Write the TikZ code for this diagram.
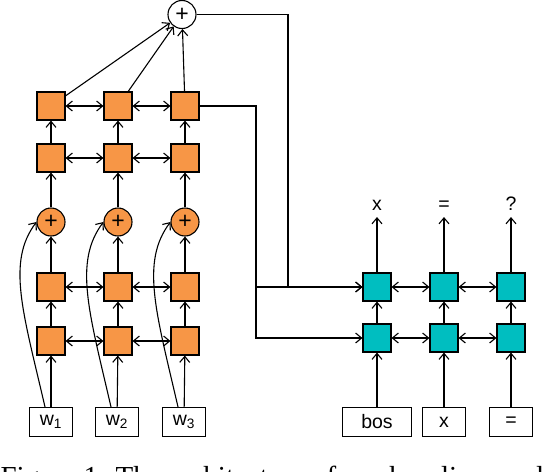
\documentclass[tikz,border=0pt]{standalone}
\usepackage{fontspec}
\setmainfont{Liberation Sans}
\newfontfamily\captionserif{Liberation Serif}
\usepackage{tikz}
\usetikzlibrary{arrows.meta}
\definecolor{cellorange}{RGB}{247,150,70}
\definecolor{cellteal}{RGB}{0,190,192}

\begin{document}
\begin{tikzpicture}[x=1pt,y=-1pt,line width=1.1pt,
  >={Straight Barb[length=6pt,width=10pt]},
  font=\fontsize{19.5}{22}\selectfont,
  osq/.style={draw,fill=cellorange,minimum size=28pt,inner sep=0pt},
  tsq/.style={draw,fill=cellteal,minimum size=28pt,inner sep=0pt},
  osum/.style={draw,circle,fill=cellorange,minimum size=28pt,inner sep=0pt,font=\fontsize{23}{24}\selectfont},
  word/.style={draw,fill=white,minimum height=29pt,minimum width=43pt,inner sep=0pt},
  outlbl/.style={inner sep=0pt,text height=12pt,text depth=6pt,anchor=south}]
\useasboundingbox (0,0) rectangle (542,472);

      \node[osum,fill=white] (plus) at (182,14.5) {+};

      \node[osq] (o11) at (51,106) {};
      \node[osq] (o12) at (118,106) {};
      \node[osq] (o13) at (185,106) {};
      \node[osq] (o21) at (51,158) {};
      \node[osq] (o22) at (118,158) {};
      \node[osq] (o23) at (185,158) {};
      \node[osum] (s1) at (51,222) {+};
      \node[osum] (s2) at (118,222) {+};
      \node[osum] (s3) at (185,222) {+};
      \node[osq] (o31) at (51,287) {};
      \node[osq] (o32) at (118,287) {};
      \node[osq] (o33) at (185,287) {};
      \node[osq] (o41) at (51,341) {};
      \node[osq] (o42) at (118,341) {};
      \node[osq] (o43) at (185,341) {};
      \node[word] (w1) at (51,422) {w\textsubscript{1}};
      \node[word] (w2) at (117,422) {w\textsubscript{2}};
      \node[word] (w3) at (184,422) {w\textsubscript{3}};

      \node[tsq] (t11) at (377,287) {};
      \node[tsq] (t12) at (444,287) {};
      \node[tsq] (t13) at (511,287) {};
      \node[tsq] (t21) at (377,338) {};
      \node[tsq] (t22) at (444,338) {};
      \node[tsq] (t23) at (511,338) {};
      \node[word,minimum width=69pt] (bos) at (377,422) {bos};
      \node[word] (ix) at (444,422) {x};
      \node[word] (ieq) at (511,422) {=};
      \node[outlbl] (lx) at (377,217) {x};
      \node[outlbl] (leq) at (444,217) {=};
      \node[outlbl] (lq) at (511,217) {?};

      \coordinate (bendA) at (288,287);
      \coordinate (bendB) at (256,338);
      \coordinate (bendC) at (256,287);

      \draw[->] (o11) -- (plus);
      \draw[->] (o12) -- (plus);
      \draw[->] (o13) -- (plus);
      \draw[<->] (o11) -- (o12);
      \draw[<->] (o12) -- (o13);
      \draw[<->] (o21) -- (o22);
      \draw[<->] (o22) -- (o23);
      \draw[<->] (o31) -- (o32);
      \draw[<->] (o32) -- (o33);
      \draw[<->] (o41) -- (o42);
      \draw[<->] (o42) -- (o43);
      \draw[->] (o21) -- (o11);
      \draw[->] (o22) -- (o12);
      \draw[->] (o23) -- (o13);
      \draw[->] (s1) -- (o21);
      \draw[->] (s2) -- (o22);
      \draw[->] (s3) -- (o23);
      \draw[->] (o31) -- (s1);
      \draw[->] (o32) -- (s2);
      \draw[->] (o33) -- (s3);
      \draw[->] (o41) -- (o31);
      \draw[->] (o42) -- (o32);
      \draw[->] (o43) -- (o33);
      \draw[->] (w1) -- (o41);
      \draw[->] (w2) -- (o42);
      \draw[->] (w3) -- (o43);
      \draw[->] ([xshift=-6pt]w1.north) .. controls +(-22,-95) and +(-30,40) .. (s1.west);
      \draw[->] ([xshift=-6pt]w2.north) .. controls +(-22,-95) and +(-30,40) .. (s2.west);
      \draw[->] ([xshift=-6pt]w3.north) .. controls +(-22,-95) and +(-30,40) .. (s3.west);

      \draw[<->] (t11) -- (t12);
      \draw[<->] (t12) -- (t13);
      \draw[<->] (t21) -- (t22);
      \draw[<->] (t22) -- (t23);
      \draw[->] (t21) -- (t11);
      \draw[->] (t22) -- (t12);
      \draw[->] (t23) -- (t13);
      \draw[->] (bos) -- (t21);
      \draw[->] (ix) -- (t22);
      \draw[->] (ieq) -- (t23);
      \draw[->] (t11) -- (lx);
      \draw[->] (t12) -- (leq);
      \draw[->] (t13) -- (lq);

      \draw[->] (plus.east) -| (bendA) -- (t11);
      \draw[->] (o13) -| (bendB) -- (t21);
      \draw[->] (bendC) -- (t11);

      \node[anchor=base west,inner sep=0pt,font=\captionserif\fontsize{29}{32}\selectfont] (cap) at (0,486) {Figure 1: The architecture of our baseline model};
\end{tikzpicture}
\end{document}
